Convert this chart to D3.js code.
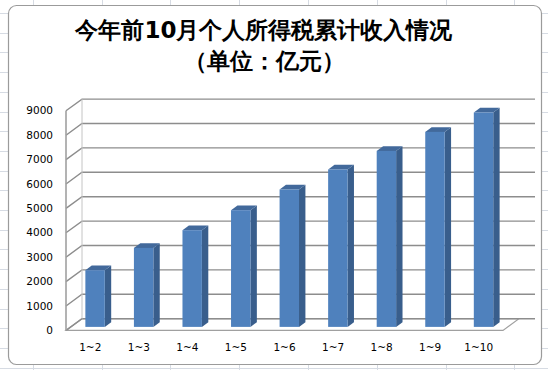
<!DOCTYPE html>
<meta charset="utf-8">
<style>
  body { margin: 0; background: #fff; }
  text { font-family: "DejaVu Sans", sans-serif; }
</style>
<body>
<script src="https://cdn.jsdelivr.net/npm/d3@7"></script>
<script>
  // data (亿元)
  var categories = ["1~2", "1~3", "1~4", "1~5", "1~6", "1~7", "1~8", "1~9", "1~10"];
  var values = [2324, 3238, 3963, 4783, 5631, 6451, 7213, 7992, 8787];
  var yTicks = [0, 1000, 2000, 3000, 4000, 5000, 6000, 7000, 8000, 9000];
  var titleLines = ["今年前10月个人所得税累计收入情况", "（单位：亿元）"];

  var width = 548, height = 370;
  // oblique depth offset of the 3d box
  var DX = 16, DY = -11.7;
  var zFront = 0.3, zBack = 0.7;

  var svg = d3.select("body").append("svg")
    .attr("width", width)
    .attr("height", height);

  // spreadsheet behind the chart
  var sheet = svg.append("g").attr("stroke", "#d6dbe3").attr("stroke-width", 1);
  [33, 102, 170, 239, 308, 377, 446, 514].forEach(function(x) {
    sheet.append("line").attr("x1", x + 0.5).attr("x2", x + 0.5).attr("y1", 0).attr("y2", height);
  });
  d3.range(13, height, 19.7).forEach(function(y) {
    sheet.append("line").attr("x1", 0).attr("x2", width).attr("y1", Math.round(y) + 0.5).attr("y2", Math.round(y) + 0.5);
  });

  // chart frame
  svg.append("rect")
    .attr("x", 8.5).attr("y", 5.5)
    .attr("width", 533).attr("height", 359)
    .attr("rx", 8).attr("ry", 8)
    .attr("fill", "#fff")
    .attr("stroke", "#9b9b9b")
    .attr("stroke-width", 1.2);

  var x = d3.scaleBand()
    .domain(categories)
    .range([66, 503])
    .paddingInner(0.6)
    .paddingOuter(0.3);

  var y = d3.scaleLinear()
    .domain([0, 9000])
    .range([330.4, 110.8]);

  function px(sx, z) { return sx + z * DX; }
  function py(v, z) { return y(v) + z * DY; }
  function pt(sx, v, z) { return [px(sx, z), py(v, z)]; }

  var x0 = x.range()[0], x1 = x.range()[1];
  var grid = "#8d8d8d";

  // floor
  svg.append("polygon")
    .attr("points", [pt(x0, 0, 0), pt(x0, 0, 1), pt(x1, 0, 1), pt(x1, 0, 0)].join(" "))
    .attr("fill", "#fff")
    .attr("stroke", "#a0a0a0")
    .attr("stroke-width", 1.2);

  // gridlines on side wall and back wall
  var g = svg.append("g").attr("fill", "none").attr("stroke", grid).attr("stroke-width", 1.4);
  yTicks.forEach(function(t) {
    g.append("path")
      .attr("d", d3.line()([pt(x0, t, 0), pt(x0, t, 1), pt(x1 + DX - px(x0, 1) + px(x0, 1), t, 1)]));
  });
  // left wall edges
  g.append("line")
    .attr("x1", x0).attr("x2", x0)
    .attr("y1", y(0)).attr("y2", y(9000))
    .attr("stroke", "#a0a0a0").attr("stroke-width", 1.6);
  g.append("line")
    .attr("x1", px(x0, 1)).attr("x2", px(x0, 1))
    .attr("y1", py(0, 1)).attr("y2", py(9000, 1))
    .attr("stroke", "#c4c4c4").attr("stroke-width", 1);

  // bars
  var bw = x.bandwidth();
  var bars = svg.append("g").selectAll("g")
    .data(values)
    .join("g");

  bars.append("polygon")
    .attr("points", function(d, i) {
      var l = x(categories[i]), r = l + bw;
      return [pt(r, 0, zFront), pt(r, 0, zBack), pt(r, d, zBack), pt(r, d, zFront)].join(" ");
    })
    .attr("fill", "#395e8c");

  bars.append("polygon")
    .attr("points", function(d, i) {
      var l = x(categories[i]), r = l + bw;
      return [pt(l, d, zFront), pt(r, d, zFront), pt(r, d, zBack), pt(l, d, zBack)].join(" ");
    })
    .attr("fill", "#42699b");

  bars.append("rect")
    .attr("x", function(d, i) { return px(x(categories[i]), zFront); })
    .attr("y", function(d) { return py(d, zFront); })
    .attr("width", bw)
    .attr("height", function(d) { return py(0, zFront) - py(d, zFront); })
    .attr("fill", "#4f81bd");

  // y axis labels
  svg.append("g").selectAll("text")
    .data(yTicks)
    .join("text")
    .attr("x", 53)
    .attr("y", function(d) { return y(d); })
    .attr("dy", "0.35em")
    .attr("text-anchor", "end")
    .attr("font-size", 10.5)
    .attr("fill", "#000")
    .text(function(d) { return d; });

  // x axis labels
  svg.append("g").selectAll("text")
    .data(categories)
    .join("text")
    .attr("x", function(d) { return x(d) + bw / 2; })
    .attr("y", 351)
    .attr("text-anchor", "middle")
    .attr("font-size", 10.5)
    .attr("fill", "#000")
    .text(function(d) { return d; });

  // title
  svg.append("g").selectAll("text")
    .data(titleLines)
    .join("text")
    .attr("x", 264)
    .attr("y", function(d, i) { return i ? 69 : 38; })
    .attr("text-anchor", "middle")
    .attr("font-family", "'Noto Sans CJK SC', sans-serif")
    .attr("font-weight", "bold")
    .attr("font-size", 23)
    .attr("fill", "#000")
    .text(function(d) { return d; });
</script>
